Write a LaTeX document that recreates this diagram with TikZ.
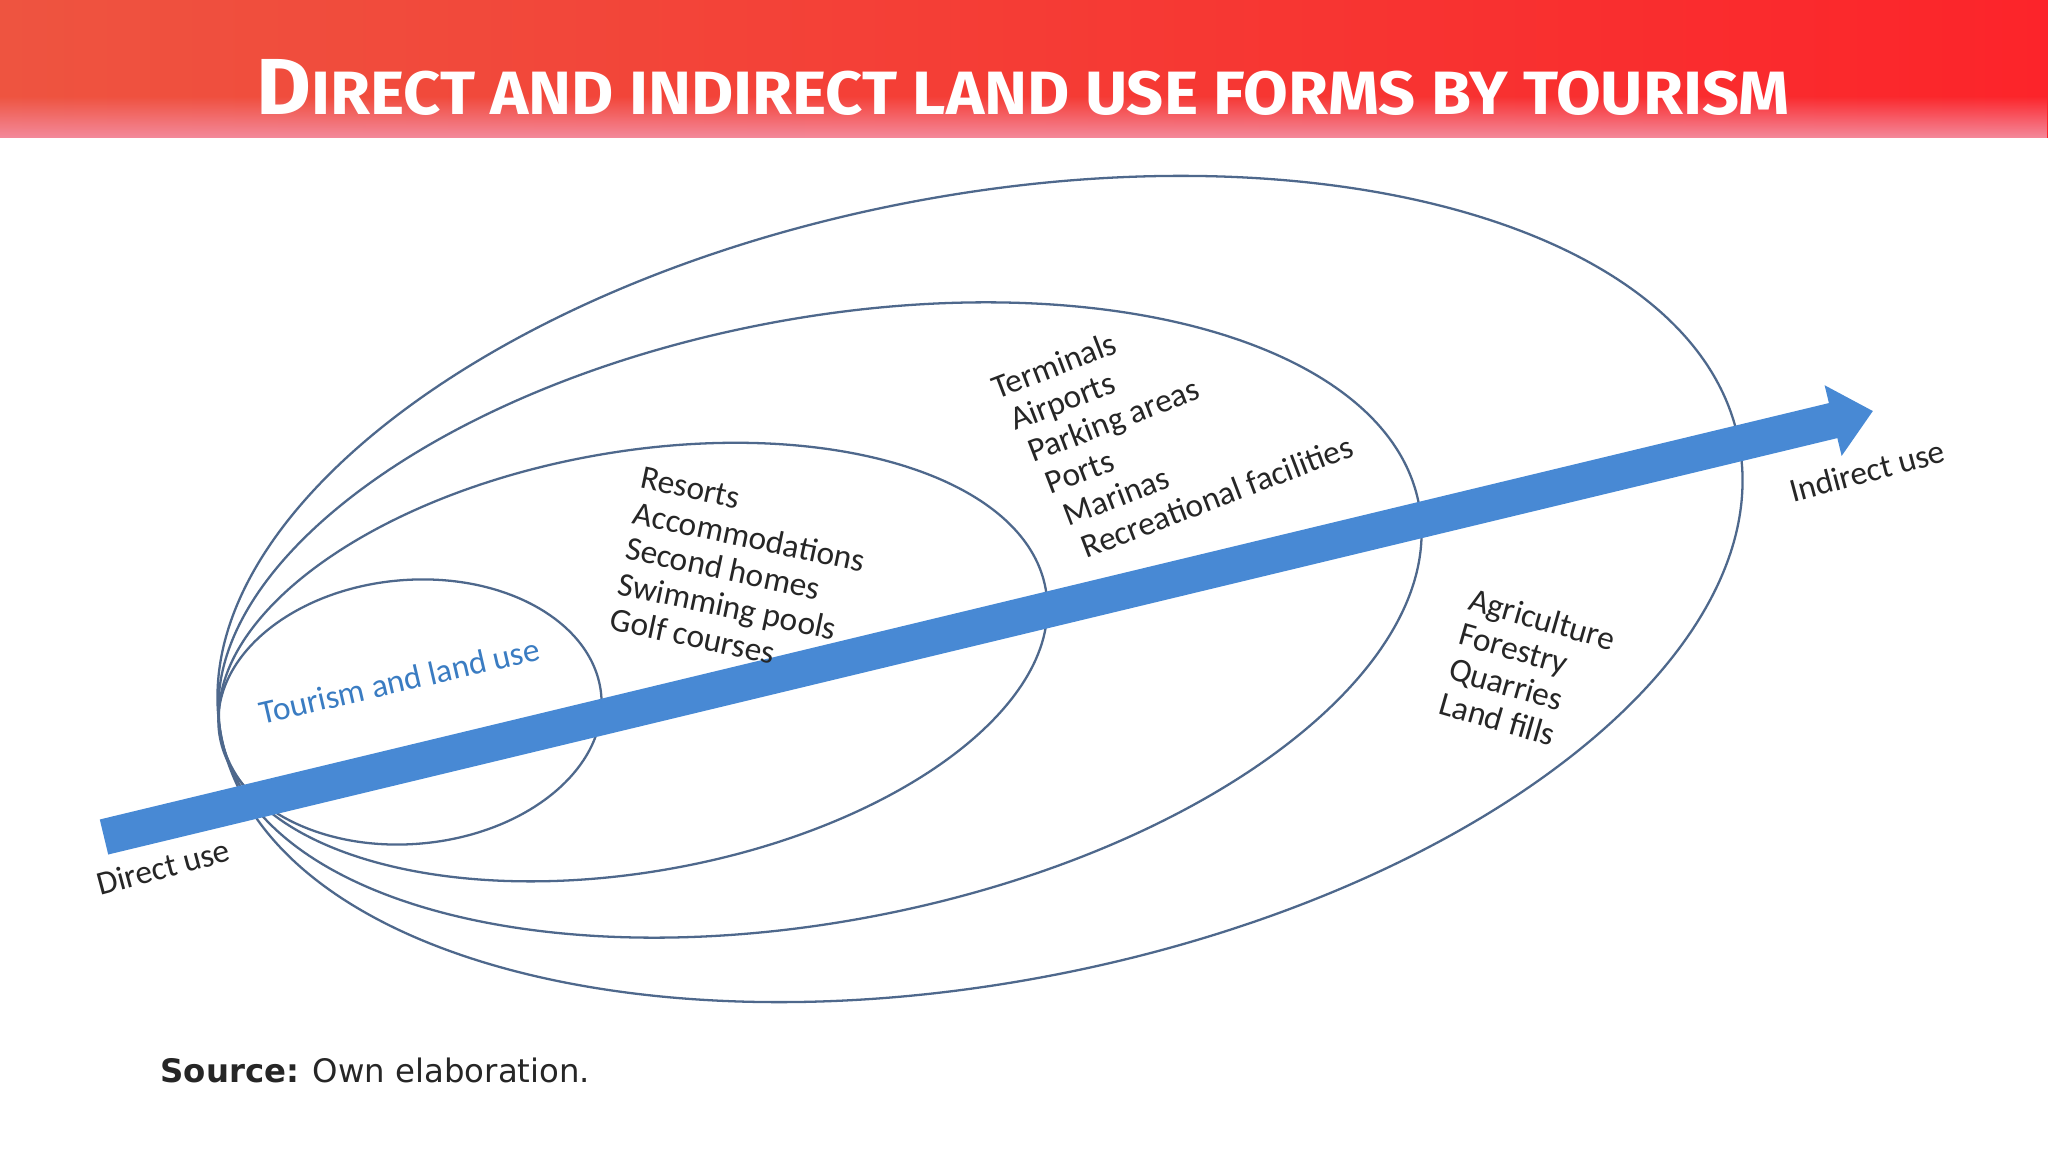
\documentclass[tikz,border=0pt]{standalone}
\usepackage{fontspec}
\setmainfont{Carlito}
\newfontfamily\sourcefont{DejaVu Sans}
\newfontfamily\titlefont{Fira Sans}
\usetikzlibrary{arrows.meta,fadings}

\definecolor{ringblue}{RGB}{78,104,140}
\definecolor{arrowblue}{RGB}{72,137,212}
\definecolor{labelblue}{RGB}{58,124,194}
\definecolor{bandleft}{RGB}{238,84,64}
\definecolor{bandmid}{RGB}{246,96,82}
\definecolor{bandright}{RGB}{252,36,42}
\definecolor{bandpink}{RGB}{244,138,156}

\newcommand{\titlecaps}[2]{{\fontsize{22.6}{24}\selectfont #1}{\fontsize{17.4}{20}\selectfont #2}}

\begin{document}
\begin{tikzpicture}[x=0.01cm, y=-0.01cm,
  ring/.style={draw=ringblue, line width=0.65pt},
  itemlist/.style={inner sep=0pt, align=left, text=black!85,
    font=\fontsize{9.5}{10.3}\selectfont},
  uselabel/.style={inner sep=0pt, text=black!85, font=\fontsize{9.5}{11}\selectfont}]
  \useasboundingbox (0,0) rectangle (2048,1152);
  \fill[white] (0,0) rectangle (2048,1152);

  % title band
  \shade[left color=bandleft, middle color=bandmid, right color=bandright]
    (0,0) rectangle (2048,138);
  \fill[bandpink, path fading=north] (0,96) rectangle (2048,138);
  \node[inner sep=0pt, anchor=base, xscale=1.06, text=white, font=\titlefont\bfseries] (title)
    at (1023,115) {\titlecaps{D}{IRECT AND INDIRECT LAND USE FORMS BY TOURISM}};

  % rings
  \coordinate (c1) at (410,712);
  \coordinate (c2) at (633,662);
  \coordinate (c3) at (820,620);
  \coordinate (c4) at (980,589);
  \draw[ring, rotate around={5:(c1)}] (c1) ellipse [x radius=192, y radius=132];
  \draw[ring, rotate around={10:(c2)}] (c2) ellipse [x radius=419, y radius=210];
  \draw[ring, rotate around={11:(c3)}] (c3) ellipse [x radius=610, y radius=301];
  \draw[ring, rotate around={11:(c4)}] (c4) ellipse [x radius=773, y radius=393];

  % direct -> indirect arrow
  \coordinate (tail) at (104,837);
  \coordinate (tip) at (1873,411);
  \draw[arrowblue, line width=0.36cm, -{Triangle[length=0.41cm, width=0.70cm]}]
    (tail) -- (tip);

  % labels
  \node[uselabel, text=labelblue, rotate=13, anchor=base] (tourism) at (402,692)
    {Tourism and land use};
  \node[uselabel, rotate=15, anchor=base] (direct) at (166,878) {Direct use};
  \node[uselabel, rotate=15, anchor=base] (indirect) at (1870,482) {Indirect use};

  \node[itemlist, rotate=-12, anchor=north west] (resorts) at (643,466)
    {Resorts\\Accommodations\\Second homes\\Swimming pools\\Golf courses};
  \node[itemlist, rotate=21, anchor=north west] (terminals) at (988,377)
    {Terminals\\\hspace*{1.5pt}Airports\\\hspace*{3pt}Parking areas\\
     \hspace*{4.5pt}Ports\\\hspace*{6pt}Marinas\\\hspace*{7.5pt}Recreational facilities};
  \node[itemlist, rotate=-16, anchor=north west] (farming) at (1473,586)
    {Agriculture\\Forestry\\Quarries\\Land fills};

  \node[inner sep=0pt, anchor=base west, text=black!85,
    font=\sourcefont\fontsize{9.2}{11}\selectfont] (source) at (160,1082)
    {\textbf{Source:} Own elaboration.};
\end{tikzpicture}
\end{document}
